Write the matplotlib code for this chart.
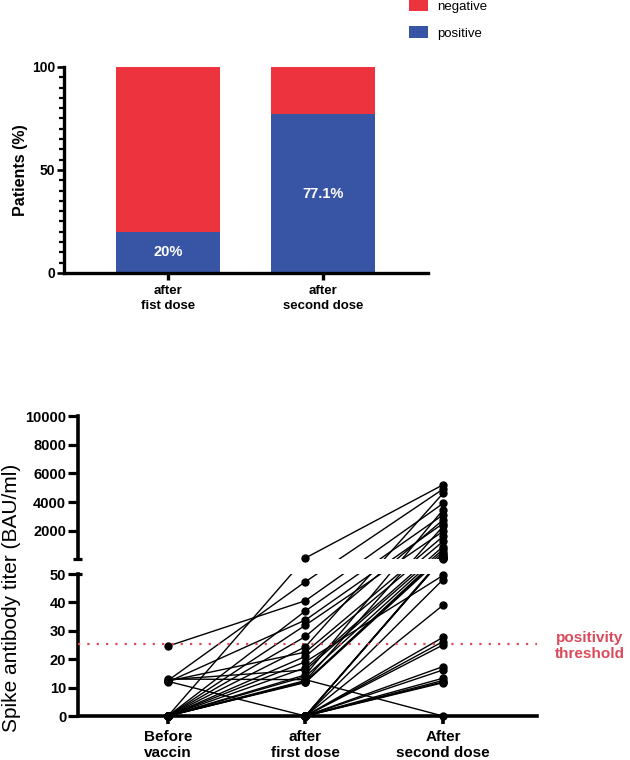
import numpy as np
import matplotlib
matplotlib.use("Agg")
import matplotlib.pyplot as plt
from matplotlib.patches import Patch
from matplotlib.ticker import MultipleLocator, NullLocator

plt.rcParams["font.family"] = ["Liberation Sans", "DejaVu Sans"]

# top panel: share of positive / negative patients
doses = ["after\nfist dose", "after\nsecond dose"]
positive = [20, 77.1]
negative = [80, 22.9]
pos_labels = ["20%", "77.1%"]

# bottom panel: spike antibody titer per patient (BAU/ml)
timepoints = ["Before\nvaccin", "after\nfirst dose", "After\nsecond dose"]
before = [24.6, 12.5, 0, 0, 12.0, 0, 0, 0, 12.3, 0, 0, 0, 12.8, 0, 0, 13.0, 0, 0,
          0, 0, 12.2, 0, 0, 0, 0, 0, 0, 0, 0, 0, 0, 0, 0, 0, 0]
first = [40.6, 47.3, 100, 37.0, 33.8, 32.0, 28.0, 24.4, 22.5, 21.0, 19.1, 17.0, 16.2,
         14.5, 13.9, 12.8, 12.5, 12.1, 12.0, 11.8, 0, 0, 0, 0, 0, 0, 0, 0, 0, 0, 0,
         0, 0, 0, 0]
second = [3900, 4900, 5200, 3100, 2500, 1950, 2750, 4600, 1600, 1250, 49.5, 900, 700,
          3450, 550, 0, 2300, 400, 300, 200, 26.2, 17.4, 16.2, 13.3, 12.5, 12.0, 11.7,
          25.0, 48, 39, 27.7, 150, 100, 80, 60]
threshold = 25.2

RED = "#ed343e"
BLUE = "#3855a5"
THR = "#d94a5a"

# broken axis: 0-50 linear, a gap, then 50-10000 squeezed into the same height
GAP = 5.4


def fwd(y):
    y = np.asarray(y, dtype=float)
    return np.where(y <= 50, y, 50 + GAP + (y - 50) * 50 / 9950)


def inv(t):
    t = np.asarray(t, dtype=float)
    hi = 50 + (t - 50 - GAP) * 9950 / 50
    return np.where(t <= 50, t, np.where(t < 50 + GAP, 50, hi))


fig = plt.figure(figsize=(6.3, 7.6), dpi=100)

# ---- top stacked bars
ax1 = fig.add_axes([64 / 630, 1 - 273 / 760, 364 / 630, 206 / 760])
x = np.arange(len(doses))
ax1.bar(x, positive, 0.67, color=BLUE, zorder=2)
ax1.bar(x, negative, 0.67, bottom=positive, color=RED, zorder=2)
for xi, p, lab in zip(x, positive, pos_labels):
    ax1.text(xi, p / 2, lab, ha="center", va="center", color="white",
             fontsize=10.5, fontweight="bold", zorder=3)
ax1.set_xlim(-0.671, 1.677)
ax1.set_ylim(0, 100)
ax1.set_xticks(x)
ax1.set_xticklabels(doses, fontsize=9.5, fontweight="bold", linespacing=1.3)
ax1.set_yticks([0, 50, 100])
ax1.set_yticklabels(["0", "50", "100"], fontsize=10, fontweight="bold")
ax1.yaxis.set_minor_locator(MultipleLocator(5))
for s in ["top", "right"]:
    ax1.spines[s].set_visible(False)
for s in ["left", "bottom"]:
    ax1.spines[s].set_linewidth(2.4)
ax1.tick_params(axis="y", which="major", length=5, width=1.9, pad=1.5)
ax1.tick_params(axis="y", which="minor", length=3.5, width=1.6)
ax1.tick_params(axis="x", length=5, width=2.4, pad=4)
fig.text(21 / 630, 1 - 170 / 760, "Patients (%)", rotation=90, ha="center",
         va="center", fontsize=11.5, fontweight="bold")

fig.legend(handles=[Patch(facecolor=RED, label="negative", linewidth=0),
                    Patch(facecolor=BLUE, label="positive", linewidth=0)],
           loc="upper left", bbox_to_anchor=(409 / 630, 1.0), frameon=False,
           fontsize=9.5, handlelength=1.45, handleheight=0.95, handletextpad=0.7,
           labelspacing=1.0, borderpad=0, borderaxespad=0)

# ---- bottom spaghetti plot on a broken axis
ax_lo = fig.add_axes([78 / 630, 1 - 716 / 760, 459 / 630, 142 / 760])
ax_hi = fig.add_axes([78 / 630, 1 - 558.7 / 760, 459 / 630, 142.7 / 760])

for ax in (ax_lo, ax_hi):
    ax.set_yscale("function", functions=(fwd, inv))
    ax.set_xlim(-0.6545, 2.684)
    ax.patch.set_alpha(0)
ax_lo.set_ylim(0, 50)
ax_hi.set_ylim(50.0001, 10000)

tx = np.arange(len(timepoints))
for b, f, s in zip(before, first, second):
    vals = np.array([b, f, s])
    for ax in (ax_lo, ax_hi):
        ax.plot(tx, vals, color="black", lw=1.0, zorder=2)
    lo = vals <= 50
    ax_lo.plot(tx[lo], vals[lo], "o", color="black", ms=5, clip_on=False, zorder=4)
    ax_hi.plot(tx[~lo], vals[~lo], "o", color="black", ms=5, clip_on=False, zorder=4)

ax_lo.axhline(threshold, color=THR, lw=1.6, ls=(0, (1, 3.2)), zorder=3)
fig.text(590 / 630, 1 - 646 / 760, "positivity\nthreshold", ha="center", va="center",
         color=THR, fontsize=11, fontweight="bold", linespacing=1.1)

ax_lo.set_yticks([0, 10, 20, 30, 40, 50])
ax_lo.set_yticklabels(["0", "10", "20", "30", "40", "50"], fontsize=10.5,
                      fontweight="bold")
ax_lo.yaxis.set_minor_locator(NullLocator())
ax_lo.set_xticks(tx)
ax_lo.set_xticklabels(timepoints, fontsize=11, fontweight="bold", linespacing=1.15)
for s in ["top", "right"]:
    ax_lo.spines[s].set_visible(False)
for s in ["left", "bottom"]:
    ax_lo.spines[s].set_linewidth(2.6)
ax_lo.tick_params(axis="y", length=7.5, width=2.3, pad=1)
ax_lo.tick_params(axis="x", length=6, width=2.6, pad=4)

ax_hi.set_yticks([2000, 4000, 6000, 8000, 10000])
ax_hi.set_yticklabels(["2000", "4000", "6000", "8000", "10000"], fontsize=10.5,
                      fontweight="bold")
ax_hi.yaxis.set_minor_locator(NullLocator())
ax_hi.set_xticks([])
for s in ["top", "right", "bottom"]:
    ax_hi.spines[s].set_visible(False)
ax_hi.spines["left"].set_linewidth(2.6)
ax_hi.tick_params(axis="y", length=7.5, width=2.3, pad=1)

# break caps on both axis segments
ax_hi.plot([-0.011, 0.009], [0, 0], transform=ax_hi.transAxes, color="black",
           lw=2.3, clip_on=False, solid_capstyle="butt")
ax_lo.plot([0, 0.009], [1, 1], transform=ax_lo.transAxes, color="black",
           lw=2.3, clip_on=False, solid_capstyle="butt")

fig.text(12 / 630, 1 - 598 / 760, "Spike antibody titer (BAU/ml)", rotation=90,
         ha="center", va="center", fontsize=15)

fig.savefig("out.png", dpi=100)
